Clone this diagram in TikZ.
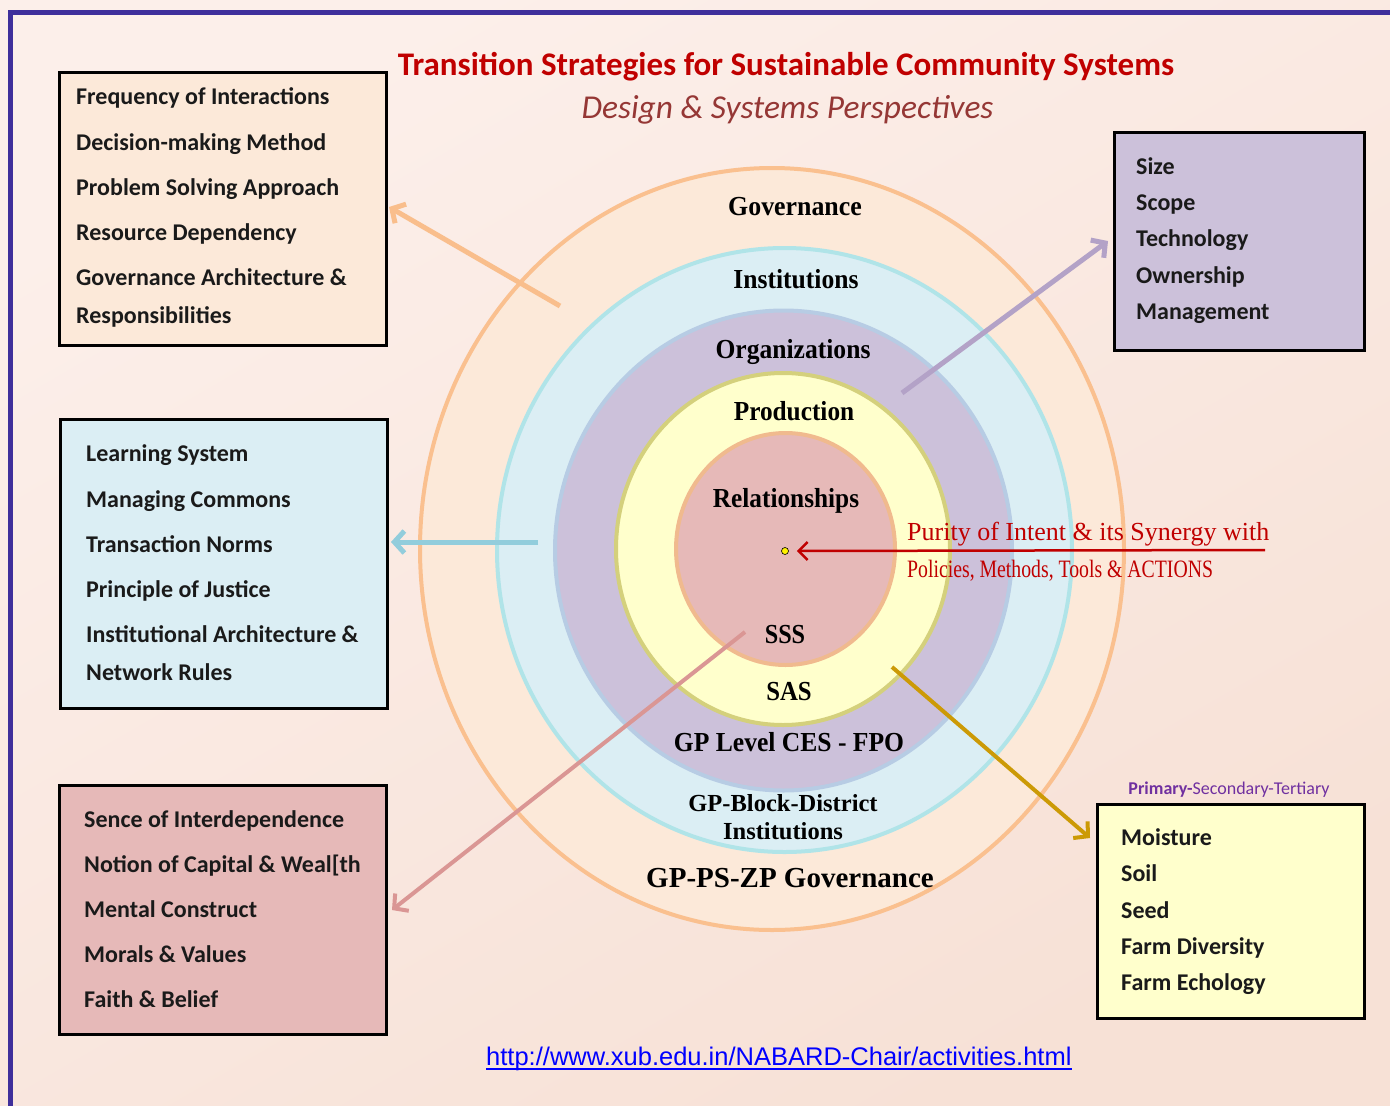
\documentclass[tikz,border=0pt]{standalone}
\usepackage{fontspec}
\setmainfont{Liberation Serif}
\newfontfamily\calfont{Carlito}
\newfontfamily\arialfont{Liberation Sans}
\usetikzlibrary{arrows.meta}
\definecolor{bgA}{HTML}{FCEFEA}
\definecolor{bgB}{HTML}{F7E1D6}
\definecolor{bordercol}{HTML}{3F2F9B}
\definecolor{titlered}{HTML}{C00000}
\definecolor{subred}{HTML}{953735}
\definecolor{gFill}{HTML}{FCE9D9}
\definecolor{gLine}{HTML}{FAC08F}
\definecolor{iFill}{HTML}{DBEEF4}
\definecolor{iLine}{HTML}{B0E4E8}
\definecolor{oFill}{HTML}{CCC1DA}
\definecolor{oLine}{HTML}{B7CCE4}
\definecolor{pFill}{HTML}{FFFFCC}
\definecolor{pLine}{HTML}{D4D07C}
\definecolor{rFill}{HTML}{E6B9B8}
\definecolor{rLine}{HTML}{F0BA8E}
\definecolor{arOrange}{HTML}{F9BE8C}
\definecolor{arBlue}{HTML}{92CDDC}
\definecolor{arPink}{HTML}{DA9694}
\definecolor{arLav}{HTML}{B3A2C7}
\definecolor{arGold}{HTML}{CC9A06}
\definecolor{purp}{HTML}{7030A0}
\definecolor{txt}{HTML}{1A1A1A}
\definecolor{urlblue}{HTML}{0000FF}
\newcommand{\cnd}[2]{\scalebox{#1}[1]{#2}}
\begin{document}
\begin{tikzpicture}[x=1pt,y=-1pt,
  infobox/.style={draw=black, line width=2.5pt, anchor=north west, inner sep=0pt},
  itm/.style={font=\calfont\bfseries\fontsize{24}{28}\selectfont, text=txt, inner sep=0pt, anchor=base west},
  lab/.style={font=\bfseries\fontsize{27.5}{32}\selectfont, text=black, inner sep=0pt, anchor=base},
  ring/.style={line width=4pt},
  conn/.style={line width=5pt, -{Straight Barb[length=10pt,width=22pt]}},
]
\path[use as bounding box] (0,0) rectangle (1390,1106);
\shade[top color=bgA, bottom color=bgB, shading angle=30] (0,0) rectangle (1390,1106);
\draw[bordercol, line width=5pt] (1395,12) -- (10.5,12) -- (10.5,1110);

% title
\node[font=\calfont\bfseries\fontsize{33}{37}\selectfont, text=titlered, inner sep=0pt, anchor=base] (title) at (786,75) {Transition Strategies for Sustainable Community Systems};
\node[font=\calfont\itshape\fontsize{33.4}{37}\selectfont, text=subred, inner sep=0pt, anchor=base] (subtitle) at (787.5,118) {Design \& Systems Perspectives};

% rings
\draw[ring, draw=gLine, fill=gFill] (772,549) ellipse [x radius=352pt, y radius=381pt];
\draw[ring, draw=iLine, fill=iFill] (784.5,550) ellipse [x radius=287.5pt, y radius=302pt];
\draw[ring, draw=oLine, fill=oFill] (783.5,550.5) ellipse [x radius=228.5pt, y radius=240pt];
\draw[ring, draw=pLine, fill=pFill] (783,549) ellipse [x radius=167pt, y radius=176pt];
\draw[ring, draw=rLine, fill=rFill] (785.5,549) ellipse [x radius=109.5pt, y radius=116pt];

% ring labels
\node[lab] (lGov) at (795,215) {\cnd{0.94}{Governance}};
\node[lab] (lInst) at (796,288) {\cnd{0.93}{Institutions}};
\node[lab] (lOrg) at (793,358) {\cnd{0.93}{Organizations}};
\node[lab] (lProd) at (794,420) {\cnd{0.92}{Production}};
\node[lab] (lRel) at (786,507) {\cnd{0.92}{Relationships}};
\node[lab] (lSSS) at (785,643) {\cnd{0.88}{SSS}};
\node[lab] (lSAS) at (789,700) {\cnd{0.9}{SAS}};
\node[lab] (lGPL) at (789,751) {\cnd{0.93}{GP Level CES - FPO}};
\node[lab, font=\bfseries\fontsize{24.5}{28}\selectfont] (lGPB1) at (783,811) {GP-Block-District};
\node[lab, font=\bfseries\fontsize{24.5}{28}\selectfont] (lGPB2) at (783,839) {Institutions};
\node[lab, font=\bfseries\fontsize{29}{34}\selectfont] (lGPZ) at (790,887) {GP-PS-ZP Governance};

% boxes
\node[infobox, fill=gFill, minimum width=327pt, minimum height=273pt] (b1) at (58,71) {};
\node[infobox, fill=iFill, minimum width=327pt, minimum height=289pt] (b2) at (59,418) {};
\node[infobox, fill=rFill, minimum width=327pt, minimum height=249pt] (b3) at (58,784) {};
\node[infobox, fill=oFill, minimum width=250pt, minimum height=218pt] (b4) at (1113,131) {};
\node[infobox, fill=pFill, minimum width=267pt, minimum height=214pt] (b5) at (1096,803) {};

\node[itm] (b1a) at (76,104) {Frequency of Interactions};
\node[itm] (b1b) at (76,150) {Decision-making Method};
\node[itm] (b1c) at (76,195) {Problem Solving Approach};
\node[itm] (b1d) at (76,240) {Resource Dependency};
\node[itm] (b1e) at (76,285) {Governance Architecture \&};
\node[itm] (b1f) at (76,323) {Responsibilities};

\node[itm] (b2a) at (86,461) {Learning System};
\node[itm] (b2b) at (86,507) {Managing Commons};
\node[itm] (b2c) at (86,552) {Transaction Norms};
\node[itm] (b2d) at (86,597) {Principle of Justice};
\node[itm] (b2e) at (86,642) {Institutional Architecture \&};
\node[itm] (b2f) at (86,680) {Network Rules};

\node[itm] (b3a) at (84,827) {Sence of Interdependence};
\node[itm] (b3b) at (84,872) {Notion of Capital \& Weal[th};
\node[itm] (b3c) at (84,917) {Mental Construct};
\node[itm] (b3d) at (84,962) {Morals \& Values};
\node[itm] (b3e) at (84,1007) {Faith \& Belief};

\node[itm] (b4a) at (1136,174) {Size};
\node[itm] (b4b) at (1136,210) {Scope};
\node[itm] (b4c) at (1136,246) {Technology};
\node[itm] (b4d) at (1136,283) {Ownership};
\node[itm] (b4e) at (1136,319) {Management};

\node[itm] (b5a) at (1121,845) {Moisture};
\node[itm] (b5b) at (1121,881) {Soil};
\node[itm] (b5c) at (1121,918) {Seed};
\node[itm] (b5d) at (1121,954) {Farm Diversity};
\node[itm] (b5e) at (1121,990) {Farm Echology};

\node[font=\calfont\fontsize{18}{22}\selectfont, text=purp, inner sep=0pt, anchor=base] (b5lab) at (1229,794) {\textbf{Primary-}Secondary-Tertiary};

% connectors
\coordinate (sOr) at (560,306);
\coordinate (tOr) at (389,207);
\coordinate (sBl) at (538,542);
\coordinate (tBl) at (391,542);
\coordinate (sPk) at (745,632);
\coordinate (tPk) at (392,910);
\coordinate (sLv) at (902,393);
\coordinate (tLv) at (1108,241);
\coordinate (sGd) at (892,667);
\coordinate (tGd) at (1090,838);
\draw[conn, arOrange] (sOr) -- (tOr);
\draw[conn, arBlue] (sBl) -- (tBl);
\draw[conn, arPink, line width=4pt] (sPk) -- (tPk);
\draw[conn, arLav] (sLv) -- (tLv);
\draw[conn, arGold, line width=4pt] (sGd) -- (tGd);

% centre dot and red arrow
\node[circle, fill=yellow, draw=black, line width=0.6pt, minimum size=7pt, inner sep=0pt] (dot) at (785,551) {};
\coordinate (sRed) at (1265,550);
\draw[titlered, line width=2.5pt, -{Straight Barb[length=9pt,width=18pt]}] (sRed) -- ([xshift=8pt]dot.east);
\node[font=\fontsize{26}{30}\selectfont, text=titlered, inner sep=0pt, anchor=base west] (red1) at (907,540) {Purity of Intent \& its Synergy with};
\node[font=\fontsize{25}{30}\selectfont, text=titlered, inner sep=0pt, anchor=base west] (red2) at (907,577) {\cnd{0.79}{Policies, Methods, Tools \& ACTIONS}};

% url
\node[font=\arialfont\fontsize{25.5}{30}\selectfont, text=urlblue, inner sep=0pt, anchor=base west] (url) at (486,1065) {http://www.xub.edu.in/NABARD-Chair/activities.html};
\draw[urlblue, line width=1.5pt] ([yshift=1.5pt]url.south west) -- ([yshift=1.5pt]url.south east);
\end{tikzpicture}
\end{document}
